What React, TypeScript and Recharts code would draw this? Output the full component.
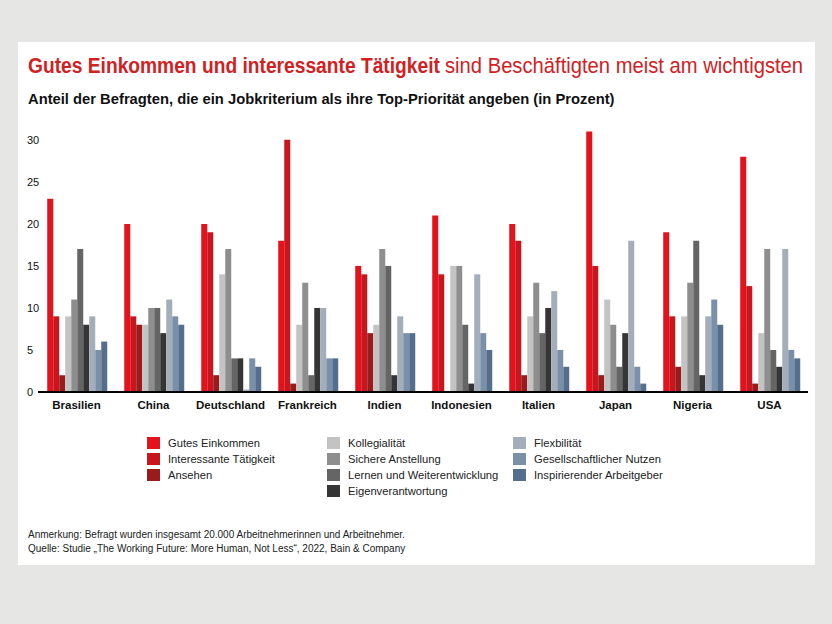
import React, { useLayoutEffect, useRef, useState } from 'react';
import { BarChart, Bar, XAxis, YAxis } from 'recharts';

const countries = ['Brasilien', 'China', 'Deutschland', 'Frankreich', 'Indien', 'Indonesien', 'Italien', 'Japan', 'Nigeria', 'USA'];

const seriesNames = [
  'Gutes Einkommen',
  'Interessante Tätigkeit',
  'Ansehen',
  'Kollegialität',
  'Sichere Anstellung',
  'Lernen und Weiterentwicklung',
  'Eigenverantwortung',
  'Flexbilität',
  'Gesellschaftlicher Nutzen',
  'Inspirierender Arbeitgeber',
];

const seriesColors = ['#e3121b', '#c9161e', '#9a1b1c', '#c3c3c3', '#8e8e8e', '#656565', '#353535', '#a4aebb', '#7a8fa8', '#546f8e'];

// one array per job criterion, in country order
const gutesEinkommen = [23, 20, 20, 18, 15, 21, 20, 31, 19, 28];
const interessanteTaetigkeit = [9, 9, 19, 30, 14, 14, 18, 15, 9, 12.6];
const ansehen = [2, 8, 2, 1, 7, 0, 2, 2, 3, 1];
const kollegialitaet = [9, 8, 14, 8, 8, 15, 9, 11, 9, 7];
const sichereAnstellung = [11, 10, 17, 13, 17, 15, 13, 8, 13, 17];
const lernen = [17, 10, 4, 2, 15, 8, 7, 3, 18, 5];
const eigenverantwortung = [8, 7, 4, 10, 2, 1, 10, 7, 2, 3];
const flexbilitaet = [9, 11, 0.3, 10, 9, 14, 12, 18, 9, 17];
const gesellschaftlich = [5, 9, 4, 4, 7, 7, 5, 3, 11, 5];
const inspirierend = [6, 8, 3, 4, 7, 5, 3, 1, 8, 4];

const seriesValues = [
  gutesEinkommen, interessanteTaetigkeit, ansehen, kollegialitaet, sichereAnstellung,
  lernen, eigenverantwortung, flexbilitaet, gesellschaftlich, inspirierend,
];

const yTicks = [0, 5, 10, 15, 20, 25, 30];

const data = countries.map((c, i) => {
  const row: Record<string, string | number> = { country: c };
  seriesNames.forEach((s, j) => { row[s] = seriesValues[j][i]; });
  return row;
});

const font = 'Arial, "Liberation Sans", Helvetica, sans-serif';

const YTick = (props: any) => {
  const { y, payload } = props;
  return (
    <text x={27} y={y} dy={4} textAnchor="start" fontSize={11} fontFamily={font} fill="#111">
      {payload.value}
    </text>
  );
};

// squeezes a line of text horizontally so it takes the given width (the source uses a condensed face)
const FitText = ({ width, left, top, style, children }: any) => {
  const ref = useRef<HTMLSpanElement>(null);
  const [scale, setScale] = useState(1);
  useLayoutEffect(() => {
    if (ref.current) setScale(width / ref.current.offsetWidth);
  }, [width]);
  return (
    <span
      ref={ref}
      style={{ position: 'absolute', left, top, whiteSpace: 'nowrap', display: 'inline-block', transformOrigin: '0 0', transform: `scaleX(${scale})`, ...style }}
    >
      {children}
    </span>
  );
};

const legendCols = [[0, 1, 2], [3, 4, 5, 6], [7, 8, 9]];
const legendX = [147, 327, 513];

export default function App() {
  return (
    <div style={{ position: 'absolute', left: 0, top: 0, width: 832, height: 624, background: '#e6e6e4', fontFamily: font, overflow: 'hidden' }}>
      <div style={{ position: 'absolute', left: 18, top: 42, width: 797, height: 523, background: '#ffffff' }} />
      <FitText left={28} top={53} width={412} style={{ fontSize: 22, fontWeight: 'bold', color: '#d2211f' }}>
        Gutes Einkommen und interessante Tätigkeit
      </FitText>
      <FitText left={445} top={53} width={358} style={{ fontSize: 22, color: '#d2211f' }}>
        sind Beschäftigten meist am wichtigsten
      </FitText>
      <FitText left={28} top={90} width={586} style={{ fontSize: 15, fontWeight: 'bold', color: '#111' }}>
        Anteil der Befragten, die ein Jobkriterium als ihre Top-Priorität angeben (in Prozent)
      </FitText>
      <div style={{ position: 'absolute', left: 0, top: 110 }}>
        <BarChart width={832} height={310} data={data} margin={{ top: 13, right: 24, bottom: 0, left: 26 }} barCategoryGap="12%" barGap={0}>
          <XAxis
            dataKey="country"
            height={28}
            axisLine={{ stroke: '#000', strokeWidth: 2 }}
            tickLine={false}
            interval={0}
            tick={{ fontSize: 11.5, fontWeight: 'bold', fill: '#111', fontFamily: font }}
            tickMargin={3}
          />
          <YAxis width={12} domain={[0, 32]} ticks={yTicks} axisLine={false} tickLine={false} tick={<YTick />} />
          {seriesNames.map((s, j) => (
            <Bar key={s} dataKey={s} fill={seriesColors[j]} isAnimationActive={false} />
          ))}
        </BarChart>
      </div>
      {legendCols.map((col, ci) => (
        <div key={ci} style={{ position: 'absolute', left: legendX[ci], top: 435 }}>
          {col.map((j) => (
            <div key={j} style={{ display: 'flex', alignItems: 'center', height: 16 }}>
              <div style={{ width: 13, height: 12, background: seriesColors[j], marginRight: 8 }} />
              <span style={{ fontSize: 11.2, color: '#222' }}>{seriesNames[j]}</span>
            </div>
          ))}
        </div>
      ))}
      <div style={{ position: 'absolute', left: 28, top: 528, fontSize: 10, color: '#222', lineHeight: '14px', whiteSpace: 'nowrap' }}>
        <div>Anmerkung: Befragt wurden insgesamt 20.000 Arbeitnehmerinnen und Arbeitnehmer.</div>
        <div>Quelle: Studie „The Working Future: More Human, Not Less“, 2022, Bain &amp; Company</div>
      </div>
    </div>
  );
}
